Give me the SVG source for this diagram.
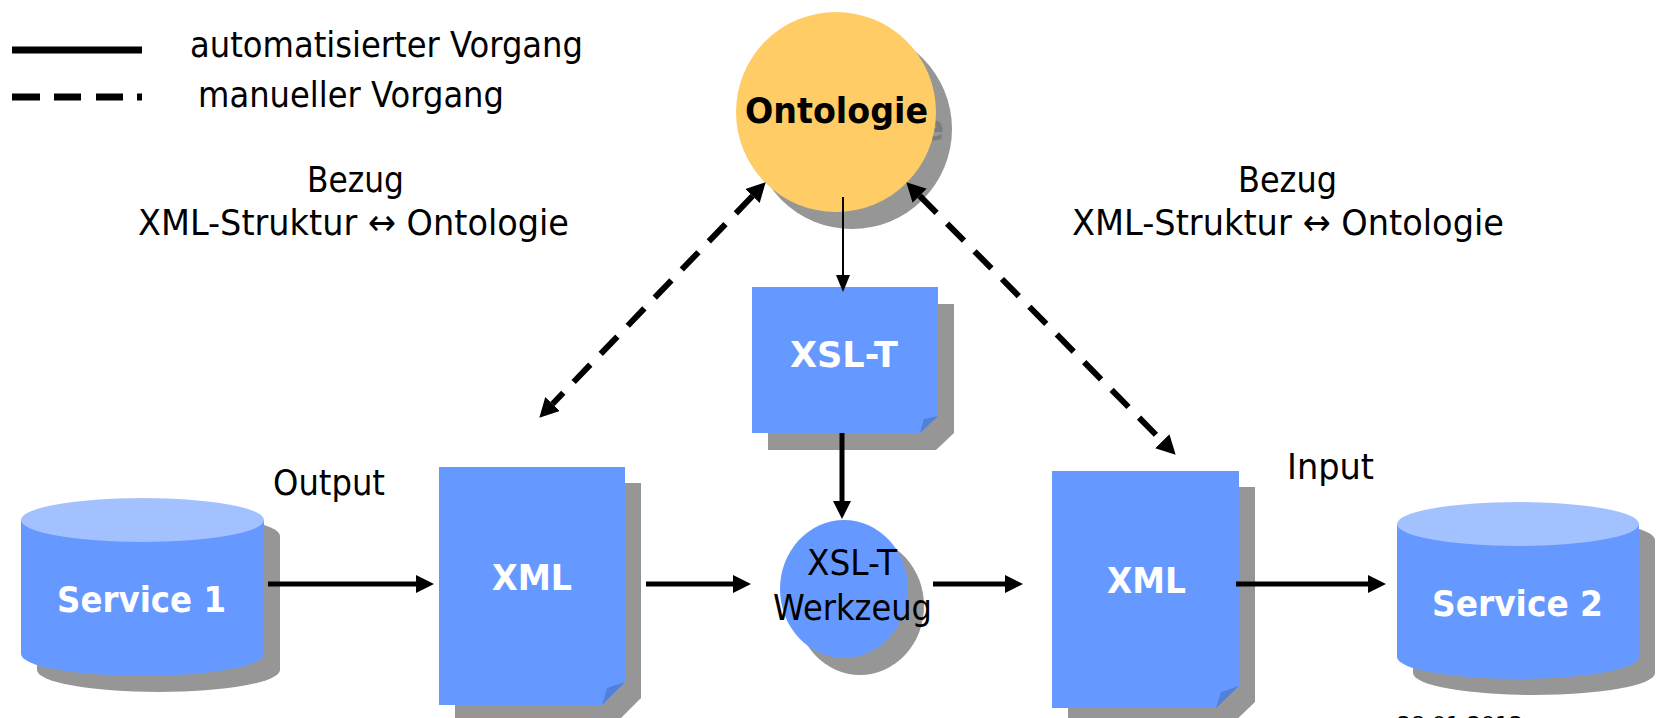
<svg xmlns="http://www.w3.org/2000/svg" width="1656" height="718" viewBox="0 0 1656 718">
  <style>
    text { font-family: "DejaVu Sans", Verdana, sans-serif; }
    .lbl { font-size: 36px; fill: #000; }
    .bold { font-size: 36px; font-weight: bold; fill: #fff; }
    .blue { fill: #6699FF; }
    .top { fill: #A3C1FF; }
    .shadow { fill: #969696; }
    .fold { fill: #5080D8; }
    .solid { stroke: #000; stroke-width: 5; fill: none; }
    .thin { stroke: #000; stroke-width: 2; fill: none; }
    .dash { stroke: #000; stroke-width: 6; fill: none; stroke-dasharray: 24 15; }
  </style>
  <defs>
    <marker id="arrowThick" markerUnits="userSpaceOnUse" markerWidth="20" markerHeight="20" refX="0" refY="9" orient="auto">
      <path d="M0,0 L18,9 L0,18 Z" fill="#000"/>
    </marker>
    <marker id="arrowThin" markerUnits="userSpaceOnUse" markerWidth="18" markerHeight="16" refX="0" refY="7" orient="auto">
      <path d="M0,0 L17,7 L0,14 Z" fill="#000"/>
    </marker>
    <marker id="arrowDash" markerUnits="userSpaceOnUse" markerWidth="22" markerHeight="22" refX="0" refY="10" orient="auto-start-reverse">
      <path d="M0,0 L19,10 L0,20 Z" fill="#000"/>
    </marker>
  </defs>

  <rect width="1656" height="718" fill="#fff"/>

  <!-- legend -->
  <g id="legend">
    <line x1="12" y1="50" x2="142" y2="50" stroke="#000" stroke-width="7"/>
    <text class="lbl" x="190" y="57" textLength="393" lengthAdjust="spacingAndGlyphs">automatisierter Vorgang</text>
    <path d="M12,97 H40 M54,97 H81 M96,97 H123 M137,97 H142" stroke="#000" stroke-width="7"/>
    <text class="lbl" x="198" y="107" textLength="306" lengthAdjust="spacingAndGlyphs">manueller Vorgang</text>
  </g>

  <!-- relation labels -->
  <g id="label-left">
    <text class="lbl" x="307" y="192" textLength="97" lengthAdjust="spacingAndGlyphs">Bezug</text>
    <text class="lbl" x="138" y="235" textLength="431" lengthAdjust="spacingAndGlyphs">XML-Struktur ↔ Ontologie</text>
  </g>
  <g id="label-right">
    <text class="lbl" x="1238" y="192" textLength="99" lengthAdjust="spacingAndGlyphs">Bezug</text>
    <text class="lbl" x="1072" y="235" textLength="432" lengthAdjust="spacingAndGlyphs">XML-Struktur ↔ Ontologie</text>
  </g>
  <g id="label-output">
    <text class="lbl" x="273" y="495" textLength="112" lengthAdjust="spacingAndGlyphs">Output</text>
  </g>
  <g id="label-input">
    <text class="lbl" x="1287" y="479" textLength="87" lengthAdjust="spacingAndGlyphs">Input</text>
  </g>

  <!-- Ontologie -->
  <g id="ontologie">
    <circle class="shadow" cx="852" cy="129" r="100"/>
    <text x="761" y="140" textLength="183" lengthAdjust="spacingAndGlyphs" style="font-size:35px;font-weight:bold;fill:#7d7d7d">Ontologie</text>
    <circle cx="836" cy="112" r="100" fill="#FFCC66"/>
    <text x="745" y="123" textLength="183" lengthAdjust="spacingAndGlyphs" style="font-size:35px;font-weight:bold;fill:#000">Ontologie</text>
  </g>

  <!-- XSL-T stylesheet -->
  <g id="xslt">
    <polygon class="shadow" points="768,304 954,304 954,433 936,450 768,450"/>
    <polygon class="blue" points="752,287 938,287 938,416 920,433 752,433"/>
    <polygon class="fold" points="920,433 938,416 924,419"/>
    <text class="bold" x="790" y="367" textLength="108" lengthAdjust="spacingAndGlyphs">XSL-T</text>
  </g>

  <!-- Service 1 -->
  <g id="service1">
    <path class="shadow" d="M37,536 L37,670 A121.5,22 0 0 0 280,670 L280,536 A121.5,22 0 0 0 37,536 Z"/>
    <path class="blue" d="M21,520 L21,654 A121.5,22 0 0 0 264,654 L264,520 Z"/>
    <ellipse class="top" cx="142.5" cy="520" rx="121.5" ry="22"/>
    <text class="bold" x="57" y="612" textLength="169" lengthAdjust="spacingAndGlyphs">Service 1</text>
  </g>

  <!-- XML output document -->
  <g id="xml-out">
    <polygon class="shadow" points="455,483 641,483 641,698 618,721 455,721"/>
    <polygon class="blue" points="439,467 625,467 625,682 602,705 439,705"/>
    <polygon class="fold" points="602,705 625,682 607,688"/>
    <text class="bold" x="492" y="590" textLength="80" lengthAdjust="spacingAndGlyphs">XML</text>
  </g>

  <!-- XSL-T Werkzeug -->
  <g id="werkzeug">
    <ellipse class="shadow" cx="860" cy="606" rx="64" ry="69"/>
    <ellipse class="blue" cx="844" cy="589" rx="64" ry="69"/>
    <text class="lbl" x="807" y="575" textLength="90" lengthAdjust="spacingAndGlyphs">XSL-T</text>
    <text class="lbl" x="773" y="620" textLength="159" lengthAdjust="spacingAndGlyphs">Werkzeug</text>
  </g>

  <!-- XML input document -->
  <g id="xml-in">
    <polygon class="shadow" points="1068,487 1255,487 1255,702 1232,724 1068,724"/>
    <polygon class="blue" points="1052,471 1239,471 1239,686 1216,708 1052,708"/>
    <polygon class="fold" points="1216,708 1239,686 1221,692"/>
    <text class="bold" x="1107" y="593" textLength="79" lengthAdjust="spacingAndGlyphs">XML</text>
  </g>

  <!-- Service 2 -->
  <g id="service2">
    <path class="shadow" d="M1413,540 L1413,673 A121,22 0 0 0 1655,673 L1655,540 A121,22 0 0 0 1413,540 Z"/>
    <path class="blue" d="M1397,524 L1397,657 A121,22 0 0 0 1639,657 L1639,524 Z"/>
    <ellipse class="top" cx="1518" cy="524" rx="121" ry="22"/>
    <text class="bold" x="1432" y="616" textLength="171" lengthAdjust="spacingAndGlyphs">Service 2</text>
  </g>

  <!-- footer date, clipped by the page edge -->
  <g id="footer">
    <text x="1397" y="730" textLength="126" lengthAdjust="spacingAndGlyphs" style="font-size:20px;fill:#000">28.01.2012</text>
  </g>

  <!-- connectors -->
  <g id="connectors">
    <line class="thin" x1="843" y1="197" x2="843" y2="275" marker-end="url(#arrowThin)"/>
    <line class="solid" x1="842" y1="433" x2="842" y2="501" marker-end="url(#arrowThick)"/>
    <line class="solid" x1="268" y1="584" x2="416" y2="584" marker-end="url(#arrowThick)"/>
    <line class="solid" x1="646" y1="584" x2="733" y2="584" marker-end="url(#arrowThick)"/>
    <line class="solid" x1="933" y1="584" x2="1005" y2="584" marker-end="url(#arrowThick)"/>
    <line class="solid" x1="1236" y1="584" x2="1368" y2="584" marker-end="url(#arrowThick)"/>
    <line class="dash" x1="752.5" y1="196" x2="552.5" y2="404" marker-start="url(#arrowDash)" marker-end="url(#arrowDash)"/>
    <line class="dash" x1="919.7" y1="195.8" x2="1162.3" y2="441.2" marker-start="url(#arrowDash)" marker-end="url(#arrowDash)"/>
  </g>
</svg>
